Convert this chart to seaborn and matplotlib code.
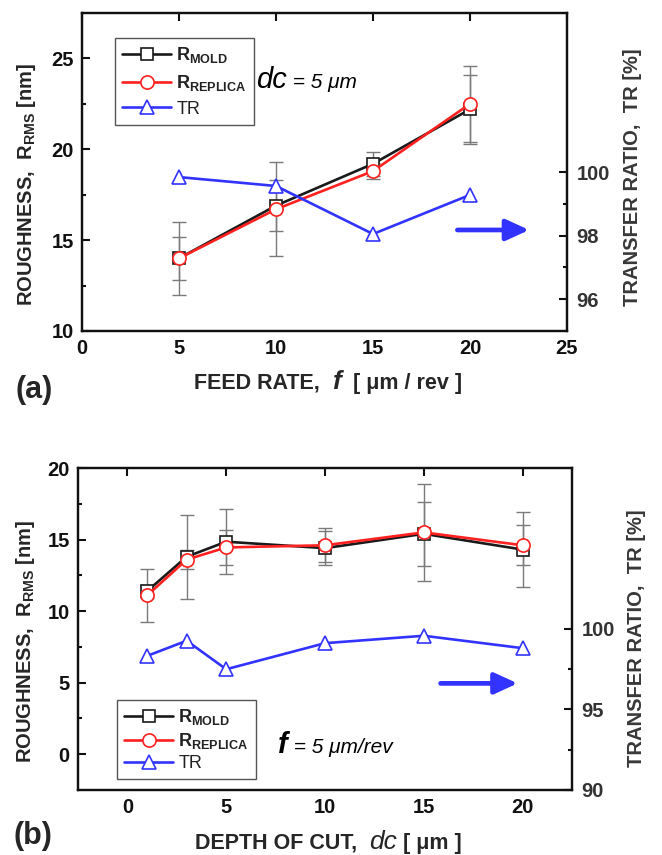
import numpy as np
import pandas as pd
import matplotlib
matplotlib.use("Agg")
import matplotlib.pyplot as plt
import seaborn as sns
from matplotlib.lines import Line2D
from matplotlib.ticker import FixedLocator
from matplotlib.offsetbox import TextArea, HPacker, AnchoredOffsetbox

# ---------------- data: panel (a) ----------------
feed_rate = [5, 10, 15, 20]
mold_a = [14.0, 16.9, 19.2, 22.2]
mold_a_err = [1.2, 1.4, 0.65, 1.9]
replica_a = [14.0, 16.7, 18.8, 22.5]
replica_a_err = [2.0, 2.6, 0.45, 2.1]
tr_a = [99.84, 99.56, 98.05, 99.28]

# ---------------- data: panel (b) ----------------
depth_of_cut = [1, 3, 5, 10, 15, 20]
mold_b = [11.4, 13.8, 14.85, 14.4, 15.4, 14.3]
mold_b_err = [0.45, 2.95, 2.27, 1.2, 2.23, 2.6]
replica_b = [11.1, 13.6, 14.45, 14.6, 15.5, 14.6]
replica_b_err = [1.85, 0.65, 1.2, 1.2, 3.38, 1.4]
tr_b = [98.33, 99.27, 97.5, 99.12, 99.58, 98.81]

legend_labels = [r"R$_{\mathbf{MOLD}}$", r"R$_{\mathbf{REPLICA}}$", "TR"]

sns.set_style("white")
plt.rcParams["font.family"] = ["Liberation Sans", "DejaVu Sans"]
plt.rcParams["mathtext.fontset"] = "custom"
plt.rcParams["mathtext.rm"] = "Liberation Sans"
plt.rcParams["mathtext.it"] = "Liberation Sans:italic"
plt.rcParams["mathtext.bf"] = "Liberation Sans:bold"
plt.rcParams["axes.linewidth"] = 1.6
plt.rcParams["axes.edgecolor"] = "#111111"

BLACK = "#1a1a1a"
RED = "#ff2020"
BLUE = "#3333ff"
GRAY = "#7a7a7a"

fig = plt.figure(figsize=(6.62, 8.55), dpi=100)
ax_a = fig.add_axes([82 / 662, 1 - 331 / 855, 485 / 662, 318 / 855])
ax_b = fig.add_axes([78 / 662, 1 - 790 / 855, 494 / 662, 322 / 855])


def style_ticks(ax):
    ax.tick_params(which="both", direction="in", width=1.5, colors="#111111",
                   labelsize=14.5)
    ax.tick_params(which="major", length=6)
    ax.tick_params(which="minor", length=3.2)
    for lab in ax.get_xticklabels() + ax.get_yticklabels():
        lab.set_fontweight("bold")


def mixed(ax, parts, xy, loc="lower left"):
    kids = [TextArea(s, textprops=p) for s, p in parts]
    box = HPacker(children=kids, align="baseline", pad=0, sep=0)
    anc = AnchoredOffsetbox(loc=loc, child=box, pad=0, borderpad=0,
                            frameon=False, bbox_to_anchor=xy,
                            bbox_transform=ax.transAxes)
    ax.add_artist(anc)
    return anc


def draw_panel(ax, x, mold, mold_err, rep, rep_err, tr):
    ax.errorbar(x, mold, yerr=mold_err, fmt="none", ecolor=GRAY,
                elinewidth=1.0, capsize=5, capthick=1.0, zorder=1)
    ax.errorbar(x, rep, yerr=rep_err, fmt="none", ecolor=GRAY,
                elinewidth=1.0, capsize=5, capthick=1.0, zorder=1)
    sns.lineplot(x=x, y=mold, ax=ax, color=BLACK, linewidth=1.9, marker="s",
                 markersize=8.5, markerfacecolor="white",
                 markeredgecolor=BLACK, markeredgewidth=1.2, zorder=3)
    sns.lineplot(x=x, y=rep, ax=ax, color=RED, linewidth=1.9, marker="o",
                 markersize=9.5, markerfacecolor="white",
                 markeredgecolor=RED, markeredgewidth=1.2, zorder=4)
    ax2 = ax.twinx()
    sns.lineplot(x=x, y=tr, ax=ax2, color=BLUE, linewidth=1.9, marker="^",
                 markersize=10.5, markerfacecolor="white",
                 markeredgecolor=BLUE, markeredgewidth=1.2, zorder=3)
    ax.set_xlabel("")
    ax.set_ylabel("")
    ax2.set_ylabel("")
    ax.tick_params(top=True, right=False)
    return ax2


def add_legend(ax2, anchor, loc, spacing):
    handles = [
        Line2D([], [], color=BLACK, lw=1.9, marker="s", ms=8.5,
               mfc="white", mec=BLACK, mew=1.2),
        Line2D([], [], color=RED, lw=1.9, marker="o", ms=9.5,
               mfc="white", mec=RED, mew=1.2),
        Line2D([], [], color=BLUE, lw=1.9, marker="^", ms=10.5,
               mfc="white", mec=BLUE, mew=1.2),
    ]
    leg = ax2.legend(handles, legend_labels, loc=loc, bbox_to_anchor=anchor,
                     borderaxespad=0, fancybox=False, framealpha=1,
                     edgecolor="#555555", fontsize=13, handlelength=2.7,
                     handletextpad=0.3, labelspacing=spacing, borderpad=0.4)
    leg.get_frame().set_linewidth(1.0)
    leg.get_texts()[0].set_fontweight("bold")
    leg.get_texts()[1].set_fontweight("bold")
    for t in leg.get_texts():
        t.set_color("#222222")
    return leg


# ---------------- panel (a) ----------------
ax2_a = draw_panel(ax_a, feed_rate, mold_a, mold_a_err, replica_a,
                   replica_a_err, tr_a)
ax_a.set_xlim(0, 25)
ax_a.set_ylim(10, 27.5)
ax2_a.set_ylim(95, 105)
ax_a.xaxis.set_major_locator(FixedLocator([0, 5, 10, 15, 20, 25]))
ax_a.xaxis.set_minor_locator(FixedLocator([2.5, 7.5, 12.5, 17.5, 22.5]))
ax_a.yaxis.set_major_locator(FixedLocator([10, 15, 20, 25]))
ax_a.yaxis.set_minor_locator(FixedLocator([12.5, 17.5, 22.5]))
ax2_a.yaxis.set_major_locator(FixedLocator([96, 98, 100]))
ax2_a.yaxis.set_minor_locator(FixedLocator([97, 99]))
style_ticks(ax_a)
ax_a.tick_params(axis="x", pad=6)
ax_a.tick_params(axis="y", pad=6)
style_ticks(ax2_a)
ax2_a.tick_params(axis="y", pad=7, labelcolor="#333333")

ax_a.set_ylabel(r"ROUGHNESS,  R$_{\mathbf{RMS}}$ [nm]", fontsize=14.5,
                fontweight="bold", va="center", ha="center")
ax_a.yaxis.set_label_coords(-0.115, 0.46)
ax2_a.set_ylabel("TRANSFER RATIO,  TR [%]", fontsize=14.5, color="#383838",
                 fontweight="bold", rotation=90, va="center", ha="center")
ax2_a.yaxis.set_label_coords(1.136, 0.484)

add_legend(ax2_a, (0.068, 0.921), "upper left", 0.42)
mixed(ax_a, [("dc", dict(fontsize=21, fontstyle="italic", color="black")),
             (" = 5 \u03bcm", dict(fontsize=15, fontstyle="italic",
                                   color="black"))],
      (0.359, 0.745))
ax_a.annotate("", xy=(23.05, 15.56), xytext=(19.35, 15.56),
              arrowprops=dict(arrowstyle="-|>,head_length=0.7,head_width=0.32",
                              color=BLUE, lw=3.4, mutation_scale=20,
                              shrinkA=0, shrinkB=0))
mixed(ax_a, [("FEED RATE,  ", dict(fontsize=15.5, fontweight="bold")),
             ("f", dict(fontsize=19, fontstyle="italic", fontweight="bold")),
             ("  [ \u03bcm / rev ]", dict(fontsize=15.5, fontweight="bold"))],
      (0.507, -0.160), loc="center")
fig.text(34 / 662, 1 - 390 / 855, "(a)", fontsize=22, fontweight="bold",
         ha="center", va="center")

# ---------------- panel (b) ----------------
ax2_b = draw_panel(ax_b, depth_of_cut, mold_b, mold_b_err, replica_b,
                   replica_b_err, tr_b)
ax_b.set_xlim(-2.5, 22.5)
ax_b.set_ylim(-2.5, 20)
ax2_b.set_ylim(90, 110)
ax_b.xaxis.set_major_locator(FixedLocator([0, 5, 10, 15, 20]))
ax_b.xaxis.set_minor_locator(FixedLocator([2.5, 7.5, 12.5, 17.5]))
ax_b.yaxis.set_major_locator(FixedLocator([0, 5, 10, 15, 20]))
ax_b.yaxis.set_minor_locator(FixedLocator([2.5, 7.5, 12.5, 17.5]))
ax2_b.yaxis.set_major_locator(FixedLocator([90, 95, 100]))
ax2_b.yaxis.set_minor_locator(FixedLocator([92.5, 97.5]))
style_ticks(ax_b)
ax_b.tick_params(axis="x", pad=6)
ax_b.tick_params(axis="y", pad=6)
style_ticks(ax2_b)
ax2_b.tick_params(axis="y", pad=7, labelcolor="#333333")

ax_b.set_ylabel(r"ROUGHNESS,  R$_{\mathbf{RMS}}$ [nm]", fontsize=14.5,
                fontweight="bold", va="center", ha="center")
ax_b.yaxis.set_label_coords(-0.107, 0.46)
ax2_b.set_ylabel("TRANSFER RATIO,  TR [%]", fontsize=14.5, color="#383838",
                 fontweight="bold", rotation=90, va="center", ha="center")
ax2_b.yaxis.set_label_coords(1.13, 0.472)

add_legend(ax2_b, (0.079, 0.034), "lower left", 0.22)
mixed(ax_b, [("f", dict(fontsize=21, fontstyle="italic", fontweight="bold",
                        color="black")),
             (" = 5 \u03bcm/rev", dict(fontsize=15, fontstyle="italic",
                                       color="black"))],
      (0.405, 0.097))
ax_b.annotate("", xy=(19.75, 4.95), xytext=(15.85, 4.95),
              arrowprops=dict(arrowstyle="-|>,head_length=0.7,head_width=0.32",
                              color=BLUE, lw=3.4, mutation_scale=20,
                              shrinkA=0, shrinkB=0))
mixed(ax_b, [("DEPTH OF CUT,  ", dict(fontsize=15.5, fontweight="bold")),
             ("dc", dict(fontsize=19, fontstyle="italic")),
             (" [ \u03bcm ]", dict(fontsize=15.5, fontweight="bold"))],
      (0.506, -0.161), loc="center")
fig.text(33 / 662, 1 - 836 / 855, "(b)", fontsize=22, fontweight="bold",
         ha="center", va="center")

fig.savefig("out.png", dpi=100)
